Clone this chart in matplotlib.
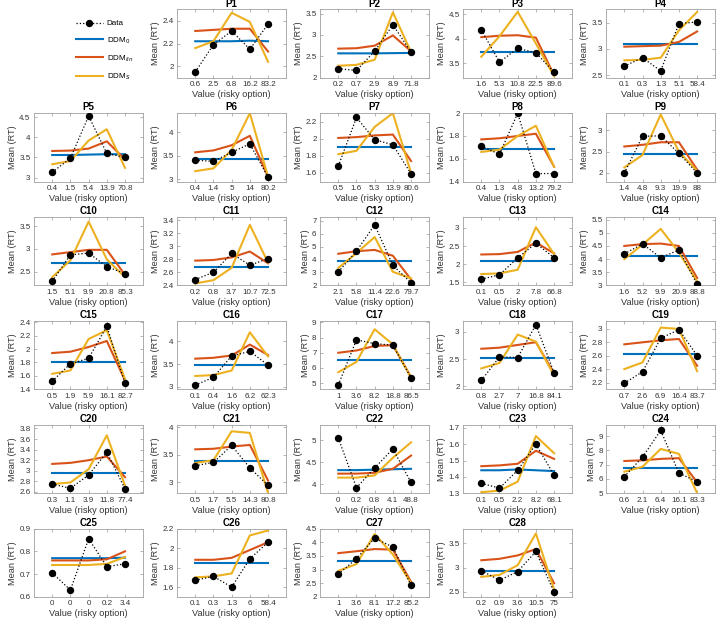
import matplotlib
matplotlib.use("Agg")
import matplotlib.pyplot as plt
from matplotlib.lines import Line2D

plt.rcParams["font.family"] = ["Liberation Sans", "DejaVu Sans"]

# panel names, in reading order (first cell holds the legend)
panels = ["P1", "P2", "P3", "P4", "P5", "P6", "P7", "P8", "P9",
          "C10", "C11", "C12", "C13", "C14", "C15", "C16", "C17", "C18", "C19",
          "C20", "C21", "C22", "C23", "C24", "C25", "C26", "C27", "C28"]

# x tick labels: value of the risky option per bin
x_labels = [
    ["0.6", "2.5", "6.8", "16.2", "83.2"],
    ["0.2", "0.7", "2.9", "8.9", "71.8"],
    ["1.6", "5.3", "10.8", "22.5", "89.6"],
    ["0.1", "0.3", "1.3", "5.1", "58.4"],
    ["0.4", "1.5", "5.4", "13.9", "70.8"],
    ["0.4", "1.4", "5", "14", "80.2"],
    ["0.5", "1.6", "5.3", "13.9", "80.6"],
    ["0.4", "1.3", "4.8", "13.2", "79.2"],
    ["1.4", "4.8", "9.3", "19.9", "88"],
    ["1.5", "5.1", "9.9", "20.8", "85.3"],
    ["0.2", "0.8", "3.7", "10.7", "72.5"],
    ["2.1", "5.8", "11.4", "22.6", "79.7"],
    ["0.1", "0.5", "2", "7.8", "66.8"],
    ["1.6", "5.2", "9.9", "20.9", "88.8"],
    ["0.5", "1.9", "5.9", "16.1", "82.7"],
    ["0.1", "0.4", "1.6", "6.2", "62.3"],
    ["1", "3.6", "8.2", "18.8", "86.5"],
    ["0.8", "2.7", "7", "16.8", "84.1"],
    ["0.7", "2.6", "6.9", "16.4", "83.7"],
    ["0.3", "1.1", "3.9", "11.8", "77.4"],
    ["0.5", "1.7", "5.5", "14.3", "80.8"],
    ["0", "0.2", "0.8", "4.1", "48.8"],
    ["0.1", "0.5", "2.2", "8.2", "68.1"],
    ["0.6", "2.1", "6.4", "16.1", "83.3"],
    ["0", "0", "0", "0.2", "3.4"],
    ["0.1", "0.3", "1.3", "6", "58.4"],
    ["1", "3.6", "8.1", "17.2", "85.2"],
    ["0.2", "0.9", "3.6", "10.5", "75"],
]

# observed mean RT
data_rt = [
    [1.95, 2.19, 2.31, 2.15, 2.37],
    [2.21, 2.17, 2.62, 3.24, 2.60],
    [4.18, 3.52, 3.80, 3.71, 3.31],
    [2.67, 2.83, 2.58, 3.48, 3.51],
    [3.13, 3.48, 4.53, 3.60, 3.50],
    [3.40, 3.38, 3.57, 3.75, 3.04],
    [1.68, 2.25, 1.99, 1.93, 1.59],
    [1.71, 1.64, 2.00, 1.47, 1.47],
    [2.00, 2.86, 2.87, 2.46, 2.00],
    [2.29, 2.87, 2.91, 2.61, 2.46],
    [2.49, 2.60, 2.89, 2.71, 2.81],
    [3.05, 4.65, 6.70, 3.55, 2.20],
    [1.59, 1.71, 2.18, 2.58, 2.18],
    [4.20, 4.58, 4.05, 4.35, 3.05],
    [1.52, 1.78, 1.86, 2.34, 1.49],
    [3.04, 3.21, 3.68, 3.78, 3.48],
    [4.88, 7.85, 7.60, 7.50, 5.35],
    [2.11, 2.54, 2.53, 3.13, 2.25],
    [2.19, 2.36, 2.86, 2.99, 2.60],
    [2.75, 2.67, 2.92, 3.35, 2.66],
    [3.30, 3.36, 3.67, 3.26, 2.94],
    [5.05, 3.92, 4.37, 4.80, 4.04],
    [1.36, 1.33, 1.44, 1.60, 1.41],
    [6.15, 7.53, 9.40, 6.40, 5.80],
    [0.705, 0.63, 0.855, 0.733, 0.745],
    [1.67, 1.71, 1.60, 1.89, 2.06],
    [2.83, 3.40, 4.15, 3.82, 2.42],
    [2.94, 2.74, 2.92, 3.33, 2.50],
]

# DDM_0 predictions
ddm0_rt = [
    [2.22, 2.22, 2.22, 2.225, 2.22],
    [2.57, 2.57, 2.57, 2.575, 2.58],
    [3.72, 3.72, 3.72, 3.72, 3.72],
    [3.10, 3.10, 3.10, 3.10, 3.10],
    [3.56, 3.56, 3.57, 3.58, 3.58],
    [3.42, 3.42, 3.42, 3.42, 3.42],
    [1.90, 1.90, 1.90, 1.90, 1.90],
    [1.69, 1.69, 1.69, 1.69, 1.69],
    [2.45, 2.45, 2.45, 2.45, 2.45],
    [2.70, 2.70, 2.70, 2.70, 2.70],
    [2.68, 2.68, 2.68, 2.68, 2.68],
    [3.90, 3.90, 3.90, 3.90, 3.90],
    [2.10, 2.10, 2.10, 2.10, 2.10],
    [4.10, 4.10, 4.10, 4.10, 4.10],
    [1.81, 1.81, 1.81, 1.81, 1.81],
    [3.49, 3.49, 3.49, 3.49, 3.49],
    [6.52, 6.52, 6.52, 6.52, 6.52],
    [2.53, 2.53, 2.53, 2.53, 2.53],
    [2.62, 2.62, 2.62, 2.62, 2.62],
    [2.95, 2.95, 2.95, 2.95, 2.95],
    [3.39, 3.39, 3.39, 3.39, 3.39],
    [4.32, 4.32, 4.33, 4.34, 4.35],
    [1.44, 1.44, 1.445, 1.44, 1.435],
    [6.75, 6.75, 6.75, 6.75, 6.75],
    [0.77, 0.77, 0.77, 0.77, 0.772],
    [1.85, 1.85, 1.85, 1.85, 1.85],
    [3.31, 3.31, 3.31, 3.31, 3.31],
    [2.93, 2.93, 2.93, 2.93, 2.93],
]

# DDM_lin predictions
ddmlin_rt = [
    [2.31, 2.32, 2.33, 2.33, 2.13],
    [2.68, 2.69, 2.75, 2.99, 2.62],
    [4.03, 4.06, 4.07, 4.02, 3.25],
    [3.04, 3.05, 3.06, 3.13, 3.33],
    [3.66, 3.67, 3.72, 3.90, 3.45],
    [3.57, 3.61, 3.72, 3.92, 3.05],
    [2.01, 2.02, 2.04, 2.05, 1.74],
    [1.77, 1.78, 1.80, 1.82, 1.53],
    [2.62, 2.66, 2.72, 2.72, 2.08],
    [2.88, 2.93, 2.98, 2.98, 2.43],
    [2.78, 2.79, 2.83, 2.92, 2.74],
    [4.45, 4.65, 4.75, 4.30, 2.45],
    [2.27, 2.28, 2.34, 2.60, 2.30],
    [4.50, 4.57, 4.59, 4.50, 3.28],
    [1.94, 1.96, 2.03, 2.12, 1.53],
    [3.62, 3.64, 3.69, 3.93, 3.70],
    [7.00, 7.15, 7.45, 7.50, 5.40],
    [2.69, 2.71, 2.76, 2.81, 2.24],
    [2.77, 2.80, 2.83, 2.85, 2.45],
    [3.13, 3.15, 3.20, 3.27, 2.88],
    [3.60, 3.61, 3.65, 3.68, 3.03],
    [4.24, 4.24, 4.26, 4.35, 4.65],
    [1.465, 1.47, 1.48, 1.56, 1.51],
    [7.25, 7.30, 7.40, 7.45, 5.75],
    [0.76, 0.76, 0.76, 0.765, 0.80],
    [1.88, 1.88, 1.90, 1.98, 2.06],
    [3.60, 3.67, 3.75, 3.73, 2.55],
    [3.15, 3.18, 3.25, 3.38, 2.68],
]

# DDM_S predictions
ddms_rt = [
    [2.16, 2.22, 2.47, 2.39, 2.04],
    [2.28, 2.30, 2.42, 3.53, 2.60],
    [3.63, 4.05, 4.55, 3.90, 3.23],
    [2.78, 2.79, 2.83, 3.35, 3.70],
    [3.33, 3.41, 3.92, 4.20, 3.24],
    [3.17, 3.23, 3.62, 4.40, 3.05],
    [1.82, 1.86, 2.14, 2.30, 1.60],
    [1.66, 1.68, 1.80, 1.89, 1.53],
    [2.13, 2.42, 3.37, 2.50, 2.05],
    [2.38, 2.75, 3.60, 2.77, 2.38],
    [2.43, 2.48, 2.67, 3.33, 2.75],
    [3.35, 4.50, 5.75, 3.05, 2.55],
    [1.73, 1.75, 1.85, 3.02, 2.28],
    [4.00, 4.55, 5.15, 4.25, 3.15],
    [1.63, 1.68, 2.15, 2.28, 1.55],
    [3.24, 3.26, 3.36, 4.20, 3.67],
    [5.72, 6.40, 8.55, 7.55, 5.35],
    [2.33, 2.43, 2.95, 2.82, 2.20],
    [2.40, 2.50, 3.02, 3.00, 2.37],
    [2.75, 2.78, 3.03, 3.67, 2.72],
    [3.35, 3.40, 3.93, 3.90, 2.80],
    [4.15, 4.15, 4.20, 4.60, 4.95],
    [1.305, 1.315, 1.37, 1.65, 1.545],
    [6.50, 6.85, 8.10, 7.75, 5.00],
    [0.74, 0.74, 0.74, 0.745, 0.775],
    [1.70, 1.71, 1.74, 2.13, 2.18],
    [2.95, 3.20, 4.30, 3.55, 2.50],
    [2.81, 2.85, 3.05, 3.70, 2.55],
]

# y-axis range and ticks per panel
y_limits = [
    (1.9, 2.5), (2.0, 3.6), (3.2, 4.6), (2.45, 3.75), (2.9, 4.6),
    (2.95, 4.4), (1.5, 2.3), (1.4, 2.0), (1.8, 3.4), (2.2, 3.7),
    (2.4, 3.45), (2.0, 7.3), (1.42, 3.3), (3.0, 5.6), (1.4, 2.42),
    (2.95, 4.45), (4.6, 9.1), (1.95, 3.2), (2.1, 3.12), (2.58, 3.87),
    (2.8, 4.05), (3.8, 5.35), (1.3, 1.72), (5.0, 9.8), (0.6, 0.9),
    (1.5, 2.2), (2.0, 4.5), (2.4, 3.8),
]
y_ticks = [
    [2, 2.2, 2.4], [2, 2.5, 3, 3.5], [3.5, 4, 4.5], [2.5, 3, 3.5], [3, 3.5, 4, 4.5],
    [3, 3.5, 4], [1.6, 1.8, 2, 2.2], [1.4, 1.6, 1.8, 2], [2, 2.5, 3], [2.5, 3, 3.5],
    [2.4, 2.6, 2.8, 3, 3.2, 3.4], [2, 3, 4, 5, 6, 7], [1.5, 2, 2.5, 3], [3, 3.5, 4, 4.5, 5, 5.5],
    [1.4, 1.6, 1.8, 2, 2.2, 2.4], [3, 3.5, 4], [5, 6, 7, 8, 9], [2, 2.5, 3],
    [2.2, 2.4, 2.6, 2.8, 3], [2.6, 2.8, 3, 3.2, 3.4, 3.6, 3.8], [3, 3.5, 4], [4, 4.5, 5],
    [1.3, 1.4, 1.5, 1.6, 1.7], [5, 6, 7, 8, 9], [0.6, 0.7, 0.8, 0.9],
    [1.6, 1.8, 2, 2.2], [2, 2.5, 3, 3.5, 4, 4.5], [2.5, 3, 3.5],
]

blue = "#0072BD"
orange = "#D95319"
yellow = "#EDB120"

fig, axes = plt.subplots(6, 5, figsize=(7.24, 6.25), dpi=100)
plt.subplots_adjust(left=0.047, right=0.988, top=0.985, bottom=0.045,
                     wspace=0.31, hspace=0.52)
axes = axes.flatten()

# legend cell and empty last cell
axes[0].axis("off")
axes[-1].axis("off")

xs = [1, 2, 3, 4, 5]
for i, name in enumerate(panels):
    ax = axes[i + 1]
    ax.plot(xs, ddm0_rt[i], color=blue, lw=1.5)
    ax.plot(xs, ddmlin_rt[i], color=orange, lw=1.5)
    ax.plot(xs, ddms_rt[i], color=yellow, lw=1.5)
    ax.plot(xs, data_rt[i], color="black", ls=":", lw=0.9,
            marker="o", ms=4.3, zorder=5)
    ax.set_xlim(0, 6)
    ax.set_ylim(*y_limits[i])
    ax.set_xticks(xs)
    ax.set_xticklabels(x_labels[i])
    ax.set_yticks(y_ticks[i])
    ax.set_yticklabels([f"{v:g}" for v in y_ticks[i]])
    ax.set_title(name, fontsize=7, fontweight="bold", pad=2)
    ax.set_xlabel("Value (risky option)", fontsize=6.6, labelpad=1.5, color="#333333")
    ax.set_ylabel("Mean (RT)", fontsize=6.6, labelpad=1.5, color="#333333")
    ax.tick_params(direction="in", length=2, width=0.5, labelsize=5.8,
                   labelcolor="#333333", top=True, right=True, pad=2.5,
                   color="#999999")
    for sp in ax.spines.values():
        sp.set_color("#a0a0a0")
        sp.set_linewidth(0.6)

handles = [
    Line2D([], [], color="black", ls=":", lw=0.9, marker="o", ms=4.3),
    Line2D([], [], color=blue, lw=1.5),
    Line2D([], [], color=orange, lw=1.5),
    Line2D([], [], color=yellow, lw=1.5),
]
labels = ["Data", "DDM$_0$", "DDM$_{lin}$", "DDM$_S$"]
fig.legend(handles, labels, loc="upper left", bbox_to_anchor=(0.095, 0.98),
           frameon=False, fontsize=5.8, handlelength=3.3, labelspacing=0.95,
           handletextpad=0.5)

plt.savefig("out.png", dpi=100)
